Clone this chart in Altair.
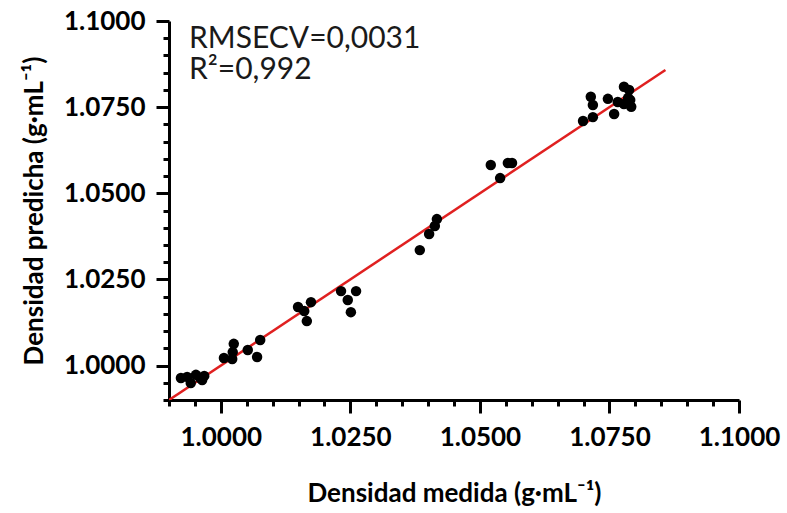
import altair as alt
import pandas as pd

# Measured (x) and predicted (y) density, g·mL-1
measured = [0.9923, 0.9935, 0.9942, 0.9952, 0.9960, 0.9968, 0.9964,
            1.0006, 1.0022, 1.0025, 1.0023, 1.0052, 1.0070, 1.0076,
            1.0149, 1.0161, 1.0166, 1.0174,
            1.0232, 1.0245, 1.0251, 1.0261,
            1.0384, 1.0402, 1.0413, 1.0417,
            1.0521, 1.0539, 1.0554, 1.0562,
            1.0699, 1.0714, 1.0718, 1.0718, 1.0747, 1.0759, 1.0766,
            1.0778, 1.0788, 1.0786, 1.0792, 1.0778, 1.0790]
predicted = [0.9964, 0.9967, 0.9949, 0.9973, 0.9964, 0.9970, 0.9958,
             1.0022, 1.0019, 1.0063, 1.0039, 1.0045, 1.0025, 1.0074,
             1.0170, 1.0158, 1.0129, 1.0184,
             1.0216, 1.0190, 1.0155, 1.0216,
             1.0335, 1.0382, 1.0405, 1.0425,
             1.0582, 1.0544, 1.0588, 1.0588,
             1.0710, 1.0780, 1.0756, 1.0721, 1.0774, 1.0730, 1.0765,
             1.0809, 1.0800, 1.0777, 1.0751, 1.0759, 1.0771]

fit_x = [0.9900, 1.0858]
fit_y = [0.9900, 1.0858]

axis_min, axis_max = 0.99, 1.10
tick_values = [round(0.99 + 0.005 * i, 3) for i in range(23)]

annot_lines = ["RMSECV=0,0031", "R²=0,992"]

x_title = "Densidad medida (g·mL⁻¹)"
y_title = "Densidad predicha (g·mL⁻¹)"

pts = pd.DataFrame({"measured": measured, "predicted": predicted})
fit = pd.DataFrame({"measured": fit_x, "predicted": fit_y})

major = "abs(datum.value*40 - round(datum.value*40)) < 0.001"

def make_axis(title, label_pad, title_pad):
    return alt.Axis(
        title=title,
        values=tick_values,
        labelExpr=f"{major} ? format(datum.value, '.4f') : ''",
        tickSize={"condition": {"test": major, "value": 13}, "value": 6},
        tickWidth=3, tickColor="black",
        domainWidth=3, domainColor="black",
        grid=False, labelOverlap=False, labelFlush=False,
        labelFont="Lato", labelFontSize=26, labelFontWeight="bold", labelColor="black",
        labelPadding=label_pad,
        titleFont="Lato", titleFontSize=26, titleFontWeight="bold", titleColor="black",
        titlePadding=title_pad,
    )

x_axis = make_axis(x_title, 11, 30)
y_axis = make_axis(y_title, 11, 16)

xs = alt.Scale(domain=[axis_min, axis_max], nice=False, zero=False)
ys = alt.Scale(domain=[axis_min, axis_max], nice=False, zero=False)

enc_x = alt.X("measured:Q", scale=xs, axis=x_axis)
enc_y = alt.Y("predicted:Q", scale=ys, axis=y_axis)

line = alt.Chart(fit).mark_line(color="#e02020", strokeWidth=2.5, clip=True).encode(
    x=enc_x, y=enc_y,
)

points = alt.Chart(pts).mark_circle(color="black", opacity=1, size=110).encode(
    x=enc_x, y=enc_y,
)

def text_layer(txt, ypix):
    return alt.Chart(pd.DataFrame({"t": [txt]})).mark_text(
        align="left", baseline="alphabetic", font="Lato", fontSize=30, color="#1a1a1a"
    ).encode(text="t:N", x=alt.value(20), y=alt.value(ypix))

annot1 = text_layer(annot_lines[0], 27)
annot2 = text_layer(annot_lines[1], 58)

chart = alt.layer(line, points, annot1, annot2).properties(
    width=570, height=379,
    padding={"left": 169, "top": 21, "right": 48, "bottom": 113},
    autosize=alt.AutoSizeParams(type="none"),
    background="white",
).configure_view(stroke=None)

chart.save("out.html", embed_options={"renderer": "svg", "actions": False})
